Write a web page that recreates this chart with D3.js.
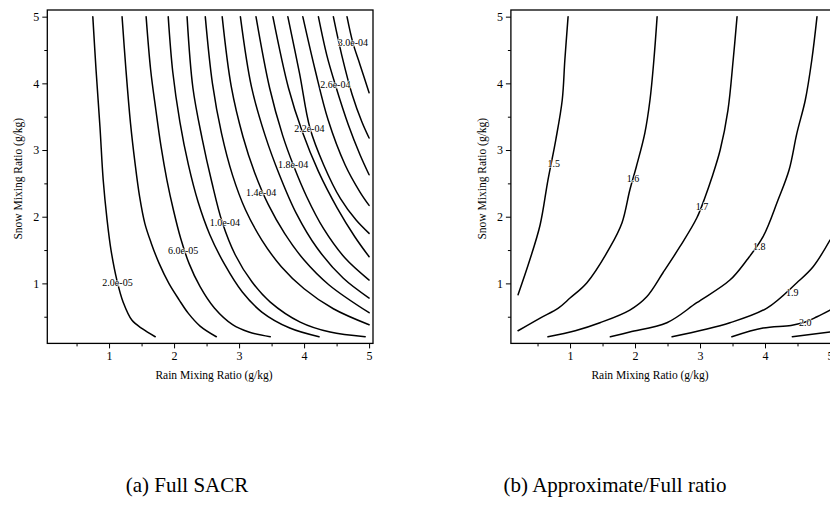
<!DOCTYPE html>
<html>
<head>
<meta charset="utf-8">
<script src="https://cdn.jsdelivr.net/npm/d3@7"></script>
<style>
  html, body { margin: 0; padding: 0; background: #fff; }
  svg { display: block; }
</style>
</head>
<body>
<svg id="fig" width="830" height="525"></svg>
<script>
// ---- Panel (a): full SACR, contour levels and traced contour paths [rain, snow] (g/kg)
const sacrLevels = [2e-5, 4e-5, 6e-5, 8e-5, 1.0e-4, 1.2e-4, 1.4e-4, 1.6e-4,
                    1.8e-4, 2.0e-4, 2.2e-4, 2.4e-4, 2.6e-4, 2.8e-4, 3.0e-4];
const sacrPaths = [
  [[0.75,5.00],[0.80,4.20],[0.86,3.35],[0.91,2.55],[0.97,1.95],[1.03,1.50],[1.12,1.05],[1.22,0.71],[1.35,0.45],[1.51,0.32],[1.71,0.20]],
  [[1.20,5.00],[1.26,4.20],[1.33,3.40],[1.40,2.80],[1.47,2.30],[1.55,1.90],[1.65,1.60],[1.77,1.30],[1.92,1.00],[2.08,0.75],[2.22,0.55],[2.40,0.36],[2.65,0.20]],
  [[1.57,5.00],[1.64,4.20],[1.72,3.60],[1.80,3.05],[1.89,2.55],[1.99,2.10],[2.10,1.68],[2.23,1.30],[2.40,0.95],[2.62,0.63],[2.90,0.38],[3.15,0.27],[3.48,0.20]],
  [[1.91,5.00],[1.98,4.17],[2.09,3.42],[2.22,2.78],[2.37,2.22],[2.55,1.73],[2.78,1.28],[3.05,0.87],[3.35,0.57],[3.78,0.33],[4.23,0.20]],
  [[2.20,5.00],[2.29,3.93],[2.43,3.18],[2.58,2.52],[2.74,1.92],[2.94,1.43],[3.20,1.02],[3.48,0.72],[3.94,0.42],[4.40,0.27],[4.94,0.20]],
  [[2.48,5.00],[2.59,4.00],[2.73,3.25],[2.90,2.62],[3.10,2.10],[3.35,1.65],[3.65,1.25],[4.00,0.92],[4.45,0.62],[5.00,0.38]],
  [[2.74,5.00],[2.88,3.95],[3.06,3.20],[3.24,2.66],[3.45,2.18],[3.70,1.75],[4.00,1.35],[4.38,0.98],[5.00,0.56]],
  [[3.02,5.00],[3.19,3.95],[3.40,3.22],[3.62,2.63],[3.88,2.05],[4.20,1.53],[4.60,1.08],[5.00,0.78]],
  [[3.26,5.00],[3.47,3.93],[3.67,3.22],[3.84,2.76],[4.04,2.30],[4.30,1.82],[4.63,1.38],[5.00,1.05]],
  [[3.52,5.00],[3.76,3.93],[3.97,3.28],[4.22,2.68],[4.51,2.13],[4.78,1.70],[5.00,1.40]],
  [[3.75,5.00],[3.93,4.15],[4.09,3.33],[4.30,2.78],[4.56,2.27],[4.80,1.95],[5.00,1.75]],
  [[3.98,5.00],[4.17,4.20],[4.37,3.45],[4.63,2.78],[4.86,2.37],[5.00,2.17]],
  [[4.22,5.00],[4.35,4.42],[4.48,3.98],[4.68,3.38],[4.86,2.93],[5.00,2.63]],
  [[4.45,5.00],[4.58,4.42],[4.74,3.83],[4.89,3.42],[5.00,3.18]],
  [[4.66,5.00],[4.75,4.61],[4.86,4.28],[5.00,3.86]]
];
// label anchors: contour index and position on that contour
const sacrLabelIndex = [0, 2, 4, 6, 8, 10, 12, 14];
const sacrLabelAt = [[1.13,1.01],[2.14,1.49],[2.78,1.92],[3.34,2.36],[3.83,2.79],[4.08,3.33],[4.48,3.98],[4.75,4.61]];

// ---- Panel (b): approximate/full ratio
const ratioLevels = [1.5, 1.6, 1.7, 1.8, 1.9, 2.0, 2.1];
const ratioPaths = [
  [[0.97,5.00],[0.92,4.35],[0.88,3.75],[0.78,3.15],[0.66,2.55],[0.54,1.88],[0.38,1.35],[0.20,0.83]],
  [[2.34,5.00],[2.29,4.35],[2.23,3.75],[2.15,3.25],[2.02,2.75],[1.92,2.40],[1.80,1.91],[1.62,1.55],[1.26,1.01],[1.00,0.78],[0.82,0.63],[0.54,0.48],[0.20,0.29]],
  [[3.57,5.00],[3.51,4.35],[3.43,3.60],[3.31,3.00],[3.18,2.58],[3.08,2.30],[2.95,1.98],[2.69,1.55],[2.43,1.16],[2.18,0.80],[1.92,0.60],[1.46,0.41],[1.08,0.29],[0.66,0.20]],
  [[4.80,5.00],[4.72,4.35],[4.62,3.75],[4.49,3.25],[4.37,2.70],[4.20,2.25],[3.97,1.70],[3.72,1.35],[3.46,1.05],[2.95,0.71],[2.49,0.41],[1.92,0.27],[1.62,0.20]],
  [[5.00,1.65],[4.74,1.25],[4.49,1.01],[4.03,0.63],[3.46,0.41],[2.57,0.20]],
  [[5.00,0.60],[4.80,0.50],[4.62,0.42],[4.40,0.37],[3.97,0.33],[3.49,0.20]],
  [[5.00,0.27],[4.42,0.20]]
];
const ratioLabelIndex = [0, 1, 2, 3, 4, 5];
const ratioLabelAt = [[0.75,2.80],[1.97,2.57],[3.03,2.16],[3.91,1.56],[4.42,0.86],[4.62,0.42]];

// axis ticks
const majorTicks = [1, 2, 3, 4, 5];
const minorTicks = [0.5, 1.5, 2.5, 3.5, 4.5];

const xTitle = "Rain Mixing Ratio (g/kg)";
const yTitle = "Snow Mixing Ratio (g/kg)";
const captions = ["(a) Full SACR", "(b) Approximate/Full ratio"];

// ---- layout
const svg = d3.select("#fig");
const serif = "'Liberation Serif', 'Times New Roman', serif";
const plotTop = 10, plotBottom = 343.4;
const yDomain = [0.1, 5.1];

function sciLabel(v) {
  const [m, e] = v.toExponential(1).split("e");
  const n = +e;
  return m + "e" + (n < 0 ? "-" : "+") + String(Math.abs(n)).padStart(2, "0");
}

function drawPanel(cfg) {
  const x = d3.scaleLinear().domain(cfg.xDomain).range(cfg.xRange);
  const y = d3.scaleLinear().domain(yDomain).range([plotBottom, plotTop]);
  const g = svg.append("g");

  // contour lines
  const line = d3.line()
    .x(d => x(d[0])).y(d => y(d[1]))
    .curve(d3.curveCatmullRom.alpha(0.5));
  g.append("g").selectAll("path").data(cfg.paths).join("path")
    .attr("d", line)
    .attr("fill", "none")
    .attr("stroke", "#000")
    .attr("stroke-width", 1.5)
    .attr("stroke-linecap", "round");

  // contour labels, drawn over the lines
  g.append("g").selectAll("text").data(cfg.labelIndex).join("text")
    .attr("x", (d, i) => x(cfg.labelAt[i][0]))
    .attr("y", (d, i) => y(cfg.labelAt[i][1]))
    .attr("text-anchor", "middle")
    .attr("dominant-baseline", "central")
    .attr("font-family", serif)
    .attr("font-size", 10)
    .attr("stroke", "#fff").attr("stroke-width", 1.2).attr("paint-order", "stroke")
    .text(d => cfg.fmt(cfg.levels[d]));

  // frame
  const x0 = cfg.xRange[0], x1 = cfg.xRange[1];
  g.append("rect")
    .attr("x", x0).attr("y", plotTop)
    .attr("width", x1 - x0).attr("height", plotBottom - plotTop)
    .attr("fill", "none").attr("stroke", "#000").attr("stroke-width", 1.3);

  // axes
  const xAx = g.append("g").attr("transform", `translate(0,${plotBottom})`)
    .call(d3.axisBottom(x).tickValues(majorTicks).tickSize(5).tickPadding(3).tickFormat(d3.format("d")));
  const xMin = g.append("g").attr("transform", `translate(0,${plotBottom})`)
    .call(d3.axisBottom(x).tickValues(minorTicks).tickSize(3).tickFormat(""));
  const yAx = g.append("g").attr("transform", `translate(${x0},0)`)
    .call(d3.axisLeft(y).tickValues(majorTicks).tickSize(5).tickPadding(3).tickFormat(d3.format("d")));
  const yMin = g.append("g").attr("transform", `translate(${x0},0)`)
    .call(d3.axisLeft(y).tickValues(minorTicks).tickSize(3).tickFormat(""));
  [xAx, xMin, yAx, yMin].forEach(a => {
    a.select(".domain").remove();
    a.selectAll("line").attr("stroke", "#000").attr("stroke-width", 1);
    a.selectAll("text").attr("font-family", serif).attr("font-size", 12).attr("fill", "#000");
  });

  // axis titles
  g.append("text")
    .attr("x", cfg.xTitleX).attr("y", 379)
    .attr("text-anchor", "middle")
    .attr("font-family", serif).attr("font-size", 11.5)
    .text(xTitle);
  g.append("text")
    .attr("transform", `translate(${x0 - 25},${(plotTop + plotBottom) / 2 + 2}) rotate(-90)`)
    .attr("text-anchor", "middle")
    .attr("font-family", serif).attr("font-size", 11.5)
    .text(yTitle);

  // caption
  svg.append("text")
    .attr("x", cfg.captionX).attr("y", 492)
    .attr("text-anchor", "middle")
    .attr("font-family", serif).attr("font-size", 21)
    .text(cfg.caption);
}

drawPanel({
  xDomain: [0.05, 5.06], xRange: [47.3, 373],
  paths: sacrPaths, levels: sacrLevels,
  labelIndex: sacrLabelIndex, labelAt: sacrLabelAt, fmt: sciLabel,
  xTitleX: 214, captionX: 187, caption: captions[0]
});

drawPanel({
  xDomain: [0.09, 5.1], xRange: [510.9, 836.5],
  paths: ratioPaths, levels: ratioLevels,
  labelIndex: ratioLabelIndex, labelAt: ratioLabelAt, fmt: d3.format(".1f"),
  xTitleX: 650, captionX: 615, caption: captions[1]
});
</script>
</body>
</html>
